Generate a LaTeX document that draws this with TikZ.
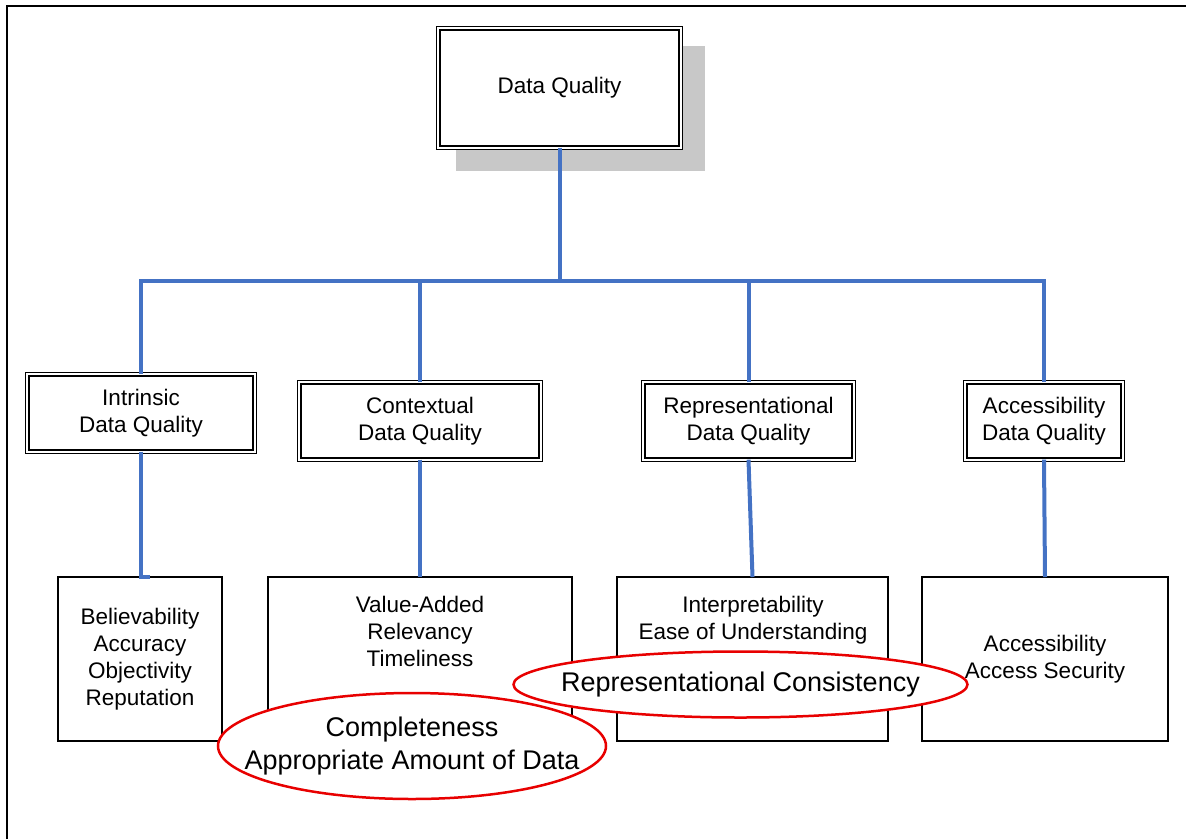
\documentclass[tikz,border=0pt]{standalone}
\usepackage{fontspec}
\setmainfont{Liberation Sans}
\usetikzlibrary{backgrounds,calc,shapes.geometric}
\definecolor{linkblue}{RGB}{68,114,196}
\definecolor{shadowgray}{RGB}{200,200,200}
\definecolor{ringred}{RGB}{232,0,0}

\begin{document}
\begin{tikzpicture}[x=1pt,y=-1pt,
  font=\fontsize{22.5}{27}\selectfont,
  dbox/.style={draw=black, line width=1.2pt, double=white, double distance=2.2pt,
    fill=white, inner sep=0pt, outer sep=0pt, align=center},
  sbox/.style={draw=black, line width=1.4pt, fill=white, inner sep=0pt, outer sep=0pt,
    minimum height=164, align=center},
  txt/.style={inner sep=0pt, align=center},
  ring/.style={ellipse, draw=ringred, line width=2.5pt, fill=white, inner sep=0pt},
  ringtxt/.style={inner sep=0pt, align=center, font=\fontsize{27}{33}\selectfont},
  link/.style={draw=linkblue, line width=4pt}]

\useasboundingbox (0,0) rectangle (1186,839);

% page frame (left and top edges)
\coordinate (frameBL) at (7,839);
\coordinate (frameTL) at (7,6);
\coordinate (frameTR) at (1186,6);
\draw[line width=2.5pt] (frameBL) -- (frameTL) -- (frameTR);

% root
\node[dbox, minimum width=242.4, minimum height=119.4] (dq) at (559.5,88) {Data Quality};
\begin{scope}[on background layer]
  \fill[shadowgray] ($(dq.north west)+(17.7,17.7)$) rectangle ($(dq.south east)+(24.3,23.3)$);
\end{scope}

% categories
\node[dbox, minimum width=227.4, minimum height=77.4] (intr) at (141,413) {Intrinsic\\Data Quality};
\node[dbox, minimum width=241.4, minimum height=77.4] (ctx) at (420,421) {Contextual\\Data Quality};
\node[dbox, minimum width=210.4, minimum height=77.4] (rep) at (748.5,421) {Representational\\Data Quality};
\node[dbox, minimum width=157.4, minimum height=77.4] (acc) at (1044,421) {Accessibility\\Data Quality};

% dimensions
\node[sbox, minimum width=164] (bel) at (140,659) {Believability\\Accuracy\\Objectivity\\Reputation};
\node[sbox, minimum width=304] (va) at (420,659) {};
\node[sbox, minimum width=271] (ip) at (752.5,659) {};
\node[sbox, minimum width=246] (acs) at (1045,659) {Accessibility\\Access Security};
\node[txt] (vat) at (420,631) {Value-Added\\Relevancy\\Timeliness};
\node[txt] (ipt) at (753,620) {Interpretability\\Ease of Understanding};

% tree connectors
\coordinate (busL) at (141,280.5);
\coordinate (busR) at (1044,280.5);
\draw[link] (intr.north) -- (busL) -- (busR) -- (acc.north);
\draw[link] (dq.south) -- (dq.south |- busL);
\draw[link] (ctx.north) -- (ctx.north |- busL);
\draw[link] (rep.north) -- (rep.north |- busL);

\coordinate (hook) at (150,577);
\draw[link] (intr.south) -- (intr.south |- bel.north) -- (hook);
\draw[link] (ctx.south) -- (va.north);
\draw[link] (rep.south) -- (ip.north);
\draw[link] (acc.south) -- (acs.north);

% highlighted additions
\node[ring, minimum width=388, minimum height=106] (cmp) at (412,746) {};
\node[ringtxt] (cmpt) at (cmp.center) {Completeness\\Appropriate Amount of Data};
\node[ring, minimum width=454, minimum height=66] (rc) at (740.5,684.5) {};
\node[ringtxt] (rct) at (rc.center) {Representational Consistency};

\end{tikzpicture}
\end{document}
